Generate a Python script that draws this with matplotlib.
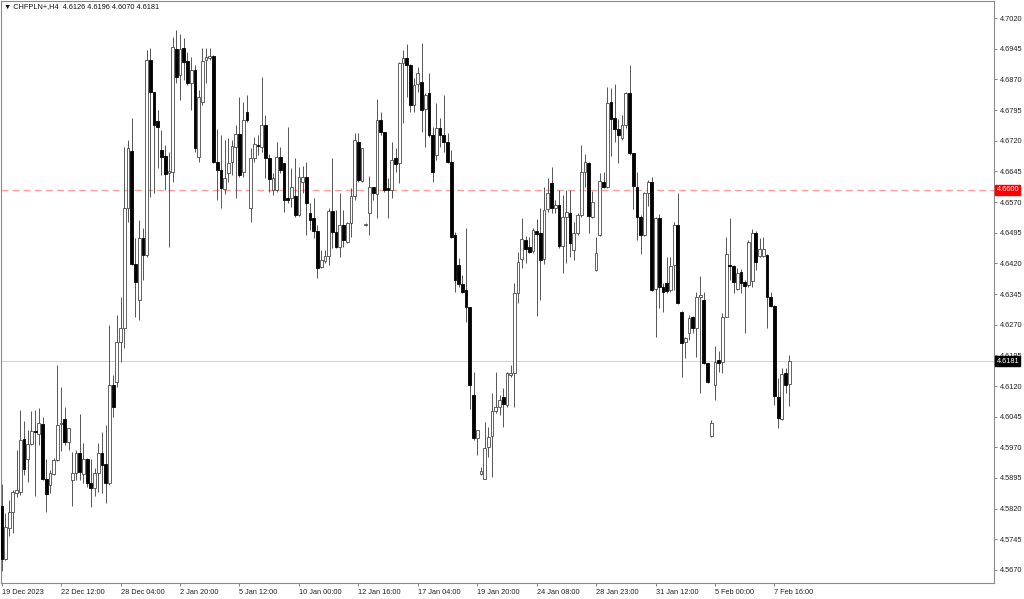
import matplotlib
matplotlib.use("Agg")
import matplotlib.pyplot as plt
import matplotlib.transforms as mtrans
import numpy as np

# ---------------- data (CHFPLN+, H4) ----------------
opens = [
 4.5826,4.5697,4.5773,4.5812,4.5858,4.5861,4.5990,4.5941,4.5978,4.6010,
 4.6002,4.6027,4.5892,4.5878,4.5905,4.5939,4.6027,4.6039,4.5983,4.5890,
 4.5907,4.5956,4.5905,4.5941,4.5883,4.5870,4.5907,4.5956,4.5929,4.5883,
 4.6122,4.6130,4.6227,4.6262,4.6555,4.6695,4.6418,4.6330,4.6482,4.6440,
 4.6917,4.6839,4.6768,4.6697,4.6682,4.6641,4.6643,4.6944,4.6881,4.6947,
 4.6915,4.6861,4.6893,4.6680,4.6815,4.6917,4.6922,4.6927,4.6668,4.6648,
 4.6602,4.6641,4.6668,4.6704,4.6736,4.6643,4.6790,4.6555,4.6678,4.6709,
 4.6704,4.6758,4.6678,4.6599,4.6599,4.6680,4.6665,4.6580,4.6580,4.6585,
 4.6538,4.6619,4.6631,4.6543,4.6531,4.6499,4.6411,4.6426,4.6438,4.6548,
 4.6497,4.6460,4.6514,4.6472,4.6519,4.6585,4.6717,4.6621,4.6514,4.6543,
 4.6607,4.6589,4.6770,4.6741,4.6604,4.6599,4.6678,4.6665,4.6910,4.6922,
 4.6905,4.6807,4.6858,4.6863,4.6797,4.6837,4.6734,4.6685,4.6751,4.6734,
 4.6717,4.6668,4.6489,4.6416,4.6369,4.6355,4.6313,4.6098,4.5993,4.5905,
 4.5892,4.5971,4.5998,4.6059,4.6069,4.6093,4.6073,4.6147,4.6152,4.6347,
 4.6430,4.6477,4.6460,4.6450,4.6499,4.6494,4.6430,4.6553,4.6616,4.6555,
 4.6563,4.6462,4.6533,4.6543,4.6453,4.6494,4.6538,4.6643,4.6665,4.6533,
 4.6404,4.6489,4.6619,4.6607,4.6815,4.6775,4.6748,4.6726,4.6758,4.6837,
 4.6690,4.6607,4.6533,4.6489,4.6592,4.6619,4.6357,4.6531,4.6362,4.6372,
 4.6355,4.6416,4.6514,4.6301,4.6227,4.6250,4.6289,4.6262,4.6338,4.6330,
 4.6176,4.5998,4.6122,4.6183,4.6179,4.6289,4.6416,4.6413,4.6357,4.6399,
 4.6374,4.6367,4.6377,4.6494,4.6438,4.6438,4.6440,4.6338,4.6316,4.6093,
 4.6039,4.6152,4.6126]

highs = [
 4.5880,4.5809,4.5841,4.5865,4.5963,4.6061,4.6034,4.6012,4.6059,4.6061,
 4.6066,4.6044,4.5941,4.5914,4.5944,4.6171,4.6117,4.6069,4.6017,4.5958,
 4.5963,4.6051,4.5980,4.5944,4.5941,4.5919,4.5980,4.6007,4.6024,4.6269,
 4.6147,4.6294,4.6338,4.6704,4.6722,4.6775,4.6482,4.6526,4.6506,4.6942,
 4.6947,4.6839,4.6795,4.6746,4.6709,4.6692,4.6974,4.6991,4.6981,4.6971,
 4.6937,4.6925,4.6905,4.6844,4.6947,4.6947,4.6947,4.6929,4.6748,4.6734,
 4.6722,4.6726,4.6722,4.6758,4.6827,4.6815,4.6832,4.6702,4.6729,4.6734,
 4.6876,4.6783,4.6687,4.6641,4.6717,4.6704,4.6665,4.6753,4.6653,4.6678,
 4.6655,4.6658,4.6668,4.6568,4.6580,4.6514,4.6453,4.6453,4.6555,4.6678,
 4.6550,4.6592,4.6550,4.6521,4.6604,4.6739,4.6739,4.6702,4.6519,4.6634,
 4.6607,4.6822,4.6790,4.6741,4.6629,4.6717,4.6702,4.6912,4.6942,4.6956,
 4.6907,4.6873,4.6900,4.6959,4.6837,4.6885,4.6753,4.6812,4.6775,4.6832,
 4.6739,4.6697,4.6497,4.6433,4.6391,4.6506,4.6313,4.6154,4.6012,4.5922,
 4.6032,4.6020,4.6103,4.6154,4.6098,4.6115,4.6154,4.6171,4.6372,4.6448,
 4.6531,4.6487,4.6484,4.6506,4.6528,4.6555,4.6607,4.6629,4.6655,4.6575,
 4.6599,4.6587,4.6599,4.6599,4.6521,4.6543,4.6709,4.6687,4.6668,4.6597,
 4.6484,4.6641,4.6643,4.6851,4.6849,4.6858,4.6773,4.6783,4.6839,4.6905,
 4.6690,4.6643,4.6538,4.6594,4.6624,4.6631,4.6533,4.6541,4.6372,4.6435,
 4.6435,4.6521,4.6592,4.6303,4.6240,4.6294,4.6291,4.6350,4.6389,4.6350,
 4.6176,4.6037,4.6218,4.6206,4.6298,4.6484,4.6531,4.6416,4.6409,4.6406,
 4.6379,4.6477,4.6504,4.6499,4.6482,4.6484,4.6443,4.6350,4.6318,4.6139,
 4.6164,4.6164,4.6196]

lows = [
 4.5667,4.5694,4.5753,4.5760,4.5848,4.5853,4.5902,4.5885,4.5976,4.5851,
 4.5976,4.5890,4.5812,4.5858,4.5902,4.5936,4.5961,4.5976,4.5963,4.5826,
 4.5890,4.5890,4.5883,4.5873,4.5824,4.5851,4.5861,4.5858,4.5834,4.5878,
 4.6044,4.6117,4.6179,4.6213,4.6521,4.6416,4.6289,4.6281,4.6379,4.6435,
 4.6582,4.6592,4.6653,4.6636,4.6599,4.6460,4.6619,4.6861,4.6819,4.6868,
 4.6856,4.6795,4.6692,4.6668,4.6807,4.6861,4.6917,4.6665,4.6575,4.6555,
 4.6589,4.6619,4.6636,4.6580,4.6631,4.6631,4.6766,4.6521,4.6668,4.6685,
 4.6692,4.6629,4.6594,4.6587,4.6594,4.6641,4.6545,4.6568,4.6558,4.6533,
 4.6536,4.6592,4.6489,4.6501,4.6482,4.6384,4.6409,4.6421,4.6416,4.6457,
 4.6457,4.6435,4.6460,4.6470,4.6484,4.6575,4.6619,4.6619,4.6511,4.6489,
 4.6575,4.6531,4.6734,4.6594,4.6531,4.6580,4.6643,4.6616,4.6763,4.6827,
 4.6790,4.6790,4.6839,4.6741,4.6704,4.6729,4.6619,4.6673,4.6704,4.6692,
 4.6665,4.6482,4.6350,4.6362,4.6347,4.6276,4.6064,4.5988,4.5951,4.5902,
 4.5892,4.5946,4.5897,4.6054,4.6049,4.6020,4.6069,4.6142,4.6069,4.6323,
 4.6409,4.6421,4.6445,4.6445,4.6291,4.6330,4.6418,4.6545,4.6543,4.6543,
 4.6457,4.6396,4.6421,4.6435,4.6428,4.6489,4.6533,4.6607,4.6494,4.6531,
 4.6401,4.6487,4.6604,4.6604,4.6682,4.6717,4.6665,4.6722,4.6751,4.6685,
 4.6553,4.6477,4.6443,4.6487,4.6560,4.6352,4.6240,4.6311,4.6301,4.6347,
 4.6350,4.6355,4.6320,4.6142,4.6188,4.6232,4.6250,4.6191,4.6103,4.6174,
 4.6127,4.5995,4.6086,4.6154,4.6152,4.6289,4.6379,4.6347,4.6355,4.6347,
 4.6250,4.6362,4.6362,4.6404,4.6435,4.6435,4.6262,4.6313,4.6073,4.6017,
 4.6037,4.6103,4.6070]

closes = [
 4.5697,4.5775,4.5812,4.5861,4.5865,4.5988,4.5917,4.5978,4.6010,4.6007,
 4.6029,4.5892,4.5856,4.5907,4.5939,4.6024,4.6029,4.5983,4.6017,4.5907,
 4.5956,4.5910,4.5941,4.5883,4.5870,4.5907,4.5956,4.5927,4.5883,4.6122,
 4.6069,4.6227,4.6262,4.6555,4.6702,4.6418,4.6374,4.6482,4.6440,4.6917,
 4.6839,4.6758,4.6753,4.6680,4.6638,4.6646,4.6949,4.6876,4.6944,4.6912,
 4.6861,4.6893,4.6702,4.6827,4.6915,4.6925,4.6927,4.6668,4.6648,4.6604,
 4.6629,4.6665,4.6707,4.6736,4.6636,4.6770,4.6770,4.6678,4.6712,4.6707,
 4.6758,4.6678,4.6626,4.6629,4.6680,4.6648,4.6575,4.6575,4.6607,4.6538,
 4.6631,4.6631,4.6568,4.6526,4.6499,4.6409,4.6428,4.6438,4.6548,4.6497,
 4.6460,4.6514,4.6477,4.6519,4.6585,4.6722,4.6624,4.6702,4.6516,4.6607,
 4.6592,4.6770,4.6741,4.6599,4.6599,4.6673,4.6663,4.6910,4.6922,4.6905,
 4.6807,4.6856,4.6885,4.6795,4.6832,4.6734,4.6643,4.6751,4.6734,4.6717,
 4.6668,4.6484,4.6379,4.6369,4.6350,4.6313,4.6122,4.5993,4.6012,4.5912,
 4.5968,4.5995,4.6059,4.6069,4.6086,4.6076,4.6152,4.6152,4.6347,4.6423,
 4.6479,4.6455,4.6448,4.6501,4.6492,4.6428,4.6550,4.6592,4.6555,4.6563,
 4.6462,4.6533,4.6545,4.6470,4.6494,4.6538,4.6643,4.6668,4.6536,4.6570,
 4.6445,4.6621,4.6607,4.6812,4.6773,4.6748,4.6734,4.6758,4.6837,4.6690,
 4.6609,4.6533,4.6489,4.6592,4.6619,4.6355,4.6531,4.6362,4.6350,4.6352,
 4.6413,4.6514,4.6323,4.6225,4.6237,4.6286,4.6262,4.6338,4.6342,4.6176,
 4.6130,4.6029,4.6179,4.6176,4.6289,4.6443,4.6413,4.6374,4.6396,4.6372,
 4.6364,4.6472,4.6494,4.6423,4.6455,4.6455,4.6338,4.6316,4.6095,4.6042,
 4.6149,4.6122,4.6181]

date_label_bars = [0, 16, 32, 48, 64, 80, 96, 112, 128, 144, 160, 176, 192, 208]
date_labels = ["19 Dec 2023", "22 Dec 12:00", "28 Dec 04:00", "2 Jan 20:00",
               "5 Jan 12:00", "10 Jan 00:00", "12 Jan 16:00", "17 Jan 04:00",
               "19 Jan 20:00", "24 Jan 08:00", "28 Jan 23:00", "31 Jan 12:00",
               "5 Feb 00:00", "7 Feb 16:00"]

price_ticks = [4.7020, 4.6945, 4.6870, 4.6795, 4.6720, 4.6645, 4.6570, 4.6495,
               4.6420, 4.6345, 4.6270, 4.6195, 4.6120, 4.6045, 4.5970, 4.5895,
               4.5820, 4.5745, 4.5670]

level_price = 4.6600
symbol = "CHFPLN+,H4"

# ---------------- figure ----------------
FONT = ["Liberation Sans", "DejaVu Sans"]
plt.rcParams["font.family"] = FONT
FS = 5.3

W, H = 1024, 599
fig = plt.figure(figsize=(W / 100, H / 100), dpi=100)
fig.patch.set_facecolor("white")
ax = fig.add_axes([1 / W, 16 / H, 993 / W, 582 / H])
ax.set_facecolor("white")

o = np.array(opens); h = np.array(highs); l = np.array(lows); c = np.array(closes)
x = np.arange(len(o))
bull = c >= o

wick_col = "#4a4a4a"
ax.vlines(x, l, h, color=wick_col, linewidth=0.65, zorder=2)

bottom = np.minimum(o, c)
height = np.maximum(np.abs(c - o), 0.00009)
ax.bar(x[bull], height[bull], bottom=bottom[bull], width=0.74,
       facecolor="white", edgecolor=wick_col, linewidth=0.6, zorder=3)
ax.bar(x[~bull], height[~bull], bottom=bottom[~bull], width=0.74,
       facecolor="black", edgecolor="black", linewidth=0.6, zorder=3)

# horizontal lines
ax.axhline(level_price, color="#ff9f9f", linewidth=1.0, linestyle=(0, (5, 3)), zorder=1)
last = closes[-1]
ax.axhline(last, color="#d2d2d2", linewidth=0.7, zorder=1)

ax.set_xlim(-0.19, 267.1)
ax.set_ylim(4.5638, 4.7062)

# axes styling
for side, sp in ax.spines.items():
    sp.set_color("#8a8a8a")
    sp.set_linewidth(0.8)

ax.yaxis.tick_right()
ax.set_yticks(price_ticks)
ax.set_yticklabels([f"{v:.4f}" for v in price_ticks])
ax.tick_params(axis="y", which="major", length=2.5, width=0.6, color="#6e6e6e",
               labelsize=FS, labelcolor="#222222", pad=2)

ax.set_xticks(date_label_bars)
ax.set_xticklabels(date_labels)
ax.tick_params(axis="x", which="major", length=2.5, width=0.6, color="#6e6e6e",
               labelsize=FS, labelcolor="#222222", pad=1.5)
for lab in ax.get_xticklabels():
    lab.set_horizontalalignment("left")

# price boxes on the right axis
trans = mtrans.blended_transform_factory(ax.transAxes, ax.transData)
ax.text(1.0025, level_price, f"{level_price:.4f}", transform=trans, ha="left", va="center",
        fontsize=FS, color="white", zorder=10, clip_on=False,
        bbox=dict(boxstyle="square,pad=0.18", facecolor="#ff0000", edgecolor="#ff0000"))
ax.text(1.0025, last, f"{last:.4f}", transform=trans, ha="left", va="center",
        fontsize=FS, color="white", zorder=10, clip_on=False,
        bbox=dict(boxstyle="square,pad=0.18", facecolor="black", edgecolor="black"))

# title
fig.text(4 / W, 1 - 6.5 / H,
         f"\u25BC {symbol}  {opens[-1]:.4f} {highs[-1]:.4f} {lows[-1]:.4f} {closes[-1]:.4f}",
         ha="left", va="center", fontsize=FS, color="#111111", family=FONT)

fig.savefig("out.png", dpi=100, facecolor="white")
